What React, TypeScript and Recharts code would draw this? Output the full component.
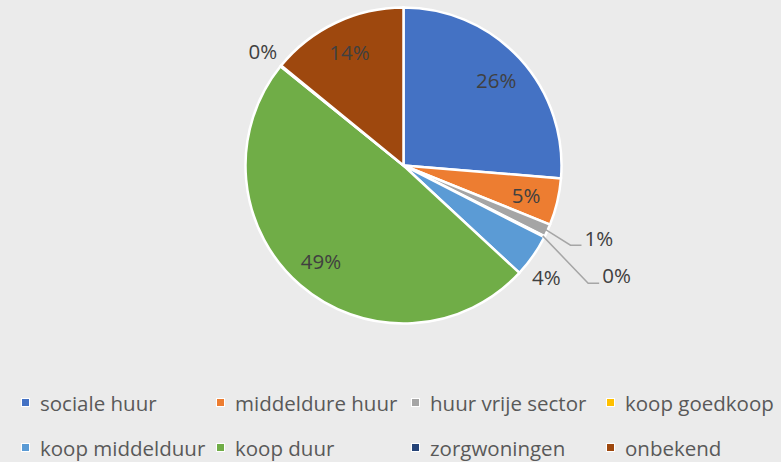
import { PieChart, Pie, Cell, Legend } from "recharts";

const categories = [
  "sociale huur",
  "middeldure huur",
  "huur vrije sector",
  "koop goedkoop",
  "koop middelduur",
  "koop duur",
  "zorgwoningen",
  "onbekend",
];
const shares = [26.3, 4.8, 1.3, 0.1, 4.4, 48.9, 0.1, 14.1];
const colors = [
  "#4472C4",
  "#ED7D31",
  "#A5A5A5",
  "#FFC000",
  "#5B9BD5",
  "#70AD47",
  "#264478",
  "#9E480E",
];

// how each slice label is placed
const labelKind = ["inside", "inside", "leader", "leader", "outside", "inside", "outside", "inside"];
const leaderBend: Record<number, { r: number; turn: number; dy: number }> = {
  2: { r: 185, turn: -1.2, dy: -7 },
  3: { r: 219, turn: -5.7, dy: -8 },
};
const outsideTurn: Record<number, number> = { 4: -3, 6: 0 };

const data = categories.map((name, i) => ({ name, value: shares[i] }));

const LABEL = "#404040";
const TEXT = "#595959";
const FONT = "'Open Sans', sans-serif";
const RAD = Math.PI / 180;

function SliceLabel(props: any) {
  const { cx, cy, midAngle, outerRadius, percent, index } = props;
  const txt = `${Math.round(percent * 100)}%`;
  const kind = labelKind[index];
  const at = (r: number, a: number) => ({
    x: cx + r * Math.cos(-a * RAD),
    y: cy + r * Math.sin(-a * RAD),
  });

  if (kind === "inside" || kind === "outside") {
    const p =
      kind === "inside"
        ? at(126, midAngle)
        : at(outerRadius + 23, midAngle + (outsideTurn[index] || 0));
    return (
      <text
        x={p.x}
        y={p.y}
        textAnchor="middle"
        dominantBaseline="central"
        fill={LABEL}
        fontSize={20.5}
        fontFamily={FONT}
      >
        {txt}
      </text>
    );
  }

  const bend = leaderBend[index];
  const s = at(outerRadius - 2, midAngle);
  const e = at(bend.r, midAngle + bend.turn);
  return (
    <g>
      <polyline
        points={`${s.x},${s.y} ${e.x},${e.y} ${e.x + 11},${e.y}`}
        fill="none"
        stroke="#A6A6A6"
        strokeWidth={1.5}
      />
      <text
        x={e.x + 14}
        y={e.y + bend.dy}
        dominantBaseline="central"
        fill={LABEL}
        fontSize={20.5}
        fontFamily={FONT}
      >
        {txt}
      </text>
    </g>
  );
}

function LegendBox() {
  return (
    <div
      style={{
        display: "grid",
        gridTemplateColumns: "195px 195px 195px 175px",
        gridAutoRows: "45px",
        paddingLeft: 21,
        fontFamily: FONT,
        fontSize: 20.5,
        color: TEXT,
      }}
    >
      {categories.map((name, i) => (
        <div key={name} style={{ display: "flex", alignItems: "center", whiteSpace: "nowrap" }}>
          <span
            style={{
              width: 7,
              height: 7,
              background: colors[i],
              border: "1.5px solid #fff",
              marginRight: 10,
              flex: "none",
            }}
          />
          {name}
        </div>
      ))}
    </div>
  );
}

export default function App() {
  return (
    <div
      style={{
        position: "absolute",
        left: 0,
        top: 0,
        width: 781,
        height: 462,
        background: "#EBEBEB",
      }}
    >
      <PieChart width={781} height={462} margin={{ top: 0, right: 0, bottom: 0, left: 0 }}>
        <Pie
          data={data}
          dataKey="value"
          nameKey="name"
          cx={403.5}
          cy={165.5}
          outerRadius={158}
          startAngle={90}
          endAngle={-270}
          stroke="#fff"
          strokeWidth={2.5}
          label={SliceLabel}
          labelLine={false}
          isAnimationActive={false}
        >
          {data.map((d, i) => (
            <Cell key={d.name} fill={colors[i]} />
          ))}
        </Pie>
        <Legend
          content={LegendBox}
          wrapperStyle={{ position: "absolute", left: 0, top: 380, width: 781 }}
        />
      </PieChart>
    </div>
  );
}
